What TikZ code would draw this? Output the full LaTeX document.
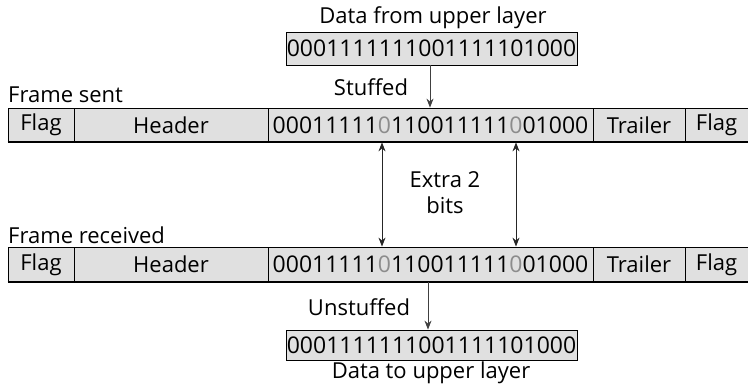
\documentclass[tikz,border=0pt]{standalone}
\usepackage{fontspec}
\setmainfont{Open Sans}
\usetikzlibrary{arrows.meta}
\definecolor{cellgray}{gray}{0.88}
\definecolor{bitgray}{gray}{0.55}
\tikzset{
  cell/.style={draw=black, line width=0.8pt, fill=cellgray, inner sep=0pt, anchor=center,
    font=\fontsize{22}{26}\selectfont},
  bits/.style={cell, font=\fontsize{23}{26}\selectfont},
  lbl/.style={inner sep=0pt, font=\fontsize{22}{26}\selectfont},
  arr/.style={draw=black!75, line width=1pt, -{Stealth[length=9pt,width=7pt]}},
  darr/.style={draw=black!85, line width=1pt, {Stealth[length=9pt,width=7pt]}-{Stealth[length=9pt,width=7pt]}},
}
\newcommand{\xb}[1]{\textcolor{bitgray}{#1}}
\begin{document}
\begin{tikzpicture}[x=1pt,y=-1pt]
\useasboundingbox (0,0) rectangle (748,385);
% top data
\node[lbl] (tl) at (433,18) {Data from upper layer};
\node[bits, minimum width=291pt, minimum height=33pt] (top) at (431.5,48.5) {0001111111001111101000};
% frame sent
\node[lbl, anchor=west] (fs) at (8,95) {Frame sent};
\node[cell, minimum width=66pt, minimum height=34pt] (sf1) at (41,125) {Flag};
\node[cell, minimum width=194pt, minimum height=34pt] (sh) at (171,125) {Header};
\node[bits, minimum width=325pt, minimum height=34pt] (sd) at (430.5,125) {00011111\xb{0}110011111\xb{0}01000};
\node[cell, minimum width=92pt, minimum height=34pt] (st) at (639,125) {Trailer};
\node[cell, minimum width=63pt, minimum height=34pt] (sf2) at (716.5,125) {Flag};
\draw[line width=2pt] (sf1.south west) -- (sf2.south east);
% frame received
\node[lbl, anchor=west] (fr) at (8,235) {Frame received};
\node[cell, minimum width=66pt, minimum height=35pt] (rf1) at (41,264.5) {Flag};
\node[cell, minimum width=194pt, minimum height=35pt] (rh) at (171,264.5) {Header};
\node[bits, minimum width=325pt, minimum height=35pt] (rd) at (430.5,264.5) {00011111\xb{0}110011111\xb{0}01000};
\node[cell, minimum width=92pt, minimum height=35pt] (rt) at (639,264.5) {Trailer};
\node[cell, minimum width=63pt, minimum height=35pt] (rf2) at (716.5,264.5) {Flag};
\draw[line width=2pt] (rf1.south west) -- (rf2.south east);
% bottom data
\node[bits, minimum width=291pt, minimum height=30pt] (bot) at (431.5,345) {0001111111001111101000};
\node[lbl] (bl) at (431,373) {Data to upper layer};
% arrows
\node[lbl] (stf) at (371,87) {Stuffed};
\draw[arr] (top.south -| 430,0) -- (sd.north -| 430,0);
\coordinate (e1) at (382,0);
\coordinate (e2) at (516,0);
\draw[darr] (sd.south -| e1) -- (rd.north -| e1);
\draw[darr] (sd.south -| e2) -- (rd.north -| e2);
\node[lbl, align=center] (ex) at (445,193) {Extra 2\\bits};
\node[lbl] (ust) at (359,307) {Unstuffed};
\draw[arr] (rd.south -| 428,0) -- (bot.north -| 428,0);
\end{tikzpicture}
\end{document}
